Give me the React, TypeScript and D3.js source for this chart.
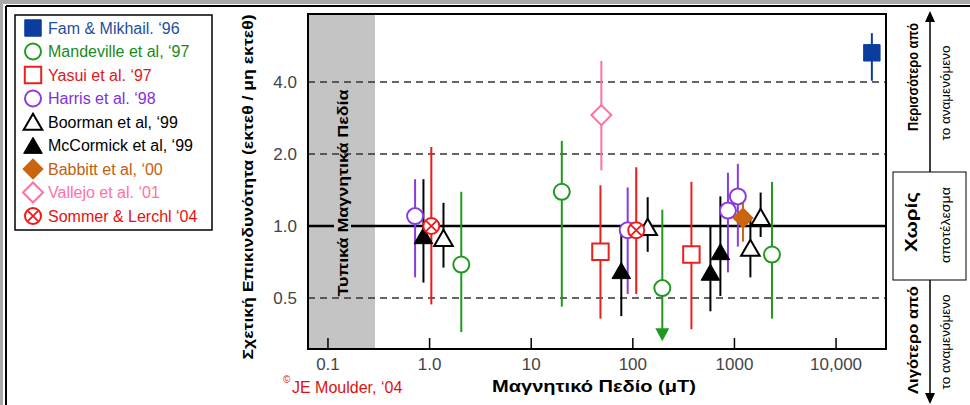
import React, { useEffect, useRef } from "react";
import * as d3 from "d3";

type Estimate = { field: number; rr: number; lo: number; hi: number; open?: boolean };

// relative risk estimates (field in µT)
const famMikhail: Estimate[] = [{ field: 22500, rr: 5.3, lo: 4.05, hi: 6.4 }];
const mandeville: Estimate[] = [
  { field: 2.05, rr: 0.69, lo: 0.36, hi: 1.39 },
  { field: 20, rr: 1.39, lo: 0.46, hi: 2.27 },
  { field: 195, rr: 0.55, lo: 0.33, hi: 1.17, open: true },
  { field: 2340, rr: 0.76, lo: 0.41, hi: 1.53 },
];
const yasui: Estimate[] = [
  { field: 48, rr: 0.78, lo: 0.41, hi: 1.48 },
  { field: 377, rr: 0.76, lo: 0.37, hi: 1.53 },
];
const harris: Estimate[] = [
  { field: 0.72, rr: 1.1, lo: 0.61, hi: 1.57 },
  { field: 89, rr: 0.96, lo: 0.52, hi: 1.45 },
  { field: 863, rr: 1.16, lo: 0.64, hi: 1.67 },
  { field: 1080, rr: 1.33, lo: 0.82, hi: 1.82 },
];
const boorman: Estimate[] = [
  { field: 1.37, rr: 0.89, lo: 0.67, hi: 1.25 },
  { field: 140, rr: 0.99, lo: 0.78, hi: 1.32 },
  { field: 1435, rr: 0.81, lo: 0.61, hi: 1.08 },
  { field: 1810, rr: 1.09, lo: 0.9, hi: 1.38 },
];
const mcCormick: Estimate[] = [
  { field: 0.87, rr: 0.91, lo: 0.58, hi: 1.57 },
  { field: 77, rr: 0.65, lo: 0.42, hi: 1.0 },
  { field: 580, rr: 0.64, lo: 0.44, hi: 1.0 },
  { field: 727, rr: 0.78, lo: 0.51, hi: 1.33 },
];
const babbitt: Estimate[] = [{ field: 1213, rr: 1.08, lo: 0.86, hi: 1.26 }];
const vallejo: Estimate[] = [{ field: 49, rr: 2.91, lo: 1.71, hi: 4.9 }];
const sommer: Estimate[] = [
  { field: 1.04, rr: 1.0, lo: 0.47, hi: 2.14 },
  { field: 108, rr: 0.96, lo: 0.52, hi: 1.76 },
];

const legendLabels = [
  "Fam & Mikhail. ‘96",
  "Mandeville et al, ‘97",
  "Yasui et al. ‘97",
  "Harris et al. ‘98",
  "Boorman et al, ‘99",
  "McCormick et al, ‘99",
  "Babbitt et al, ‘00",
  "Vallejo et al. ‘01",
  "Sommer & Lerchl ‘04",
];

const xTicks = [0.1, 1, 10, 100, 1000, 10000];
const xTickLabels = ["0.1", "1.0", "10", "100", "1000", "10,000"];
const yTicks = [0.5, 1, 2, 4];
const yTickLabels = ["0.5", "1.0", "2.0", "4.0"];

const series = [
  { data: famMikhail, shape: "square", color: "#0b3d9e", text: "#1f4fa0", filled: true },
  { data: mandeville, shape: "circle", color: "#1f9a1f", text: "#1a8a1a", filled: false },
  { data: yasui, shape: "square", color: "#e8201e", text: "#e0161b", filled: false },
  { data: harris, shape: "circle", color: "#8a3be0", text: "#8030e0", filled: false },
  { data: boorman, shape: "triangle", color: "#000000", text: "#000000", filled: false },
  { data: mcCormick, shape: "triangle", color: "#000000", text: "#000000", filled: true },
  { data: babbitt, shape: "diamond", color: "#c8650e", text: "#c06010", filled: true },
  { data: vallejo, shape: "diamond", color: "#ff6fa3", text: "#ff6fa8", filled: false },
  { data: sommer, shape: "crossCircle", color: "#f01818", text: "#e81010", filled: false },
];

const FONT = "'Liberation Sans', Arial, sans-serif";

const drawMarker = (g: any, shape: string, color: string, filled: boolean, x: number, y: number) => {
  const fill = filled ? color : "#fff";
  if (shape === "circle" || shape === "crossCircle") {
    g.append("circle").attr("cx", x).attr("cy", y).attr("r", 8)
      .attr("fill", fill).attr("stroke", color).attr("stroke-width", 2);
    if (shape === "crossCircle") {
      const d = 5.2;
      g.append("path")
        .attr("d", `M${x - d},${y - d}L${x + d},${y + d}M${x - d},${y + d}L${x + d},${y - d}`)
        .attr("stroke", color).attr("stroke-width", 1.8);
    }
    return;
  }
  let sym: any = d3.symbolSquare;
  let size = 270;
  let rot = 0;
  let dy = 0;
  if (shape === "triangle") { sym = d3.symbolTriangle; size = 150; dy = 2.5; }
  if (shape === "diamond") { sym = d3.symbolSquare; size = 200; rot = 45; }
  g.append("path")
    .attr("d", d3.symbol().type(sym).size(size)())
    .attr("transform", `translate(${x},${y + dy}) rotate(${rot})`)
    .attr("fill", fill)
    .attr("stroke", color)
    .attr("stroke-width", filled ? 1 : 2);
};

const App = () => {
  const svgRef = useRef<SVGSVGElement>(null);

  useEffect(() => {
    document.body.style.margin = "0";
    const svg = d3.select(svgRef.current);
    svg.selectAll("*").remove();

    const left = 308, right = 886, top = 14, bottom = 349;
    const x = d3.scaleLog().domain([0.0636, 31000]).range([left, right]);
    const y = d3.scaleLog().base(2).domain([0.306, 7.7]).range([bottom, top]);

    svg.append("rect").attr("width", 970).attr("height", 405).attr("fill", "#fff");

    // outer frame
    svg.append("rect").attr("x", 0).attr("y", 0).attr("width", 970).attr("height", 4).attr("fill", "#a8a8a8");
    svg.append("rect").attr("x", 0).attr("y", 0).attr("width", 3).attr("height", 405).attr("fill", "#a8a8a8");
    svg.append("line").attr("x1", 6).attr("x2", 970).attr("y1", 6).attr("y2", 6).attr("stroke", "#000").attr("stroke-width", 2);
    svg.append("line").attr("x1", 6).attr("x2", 6).attr("y1", 6).attr("y2", 405).attr("stroke", "#000").attr("stroke-width", 2);

    // typical field band
    svg.append("rect").attr("x", left).attr("y", top).attr("width", x(0.29) - left)
      .attr("height", bottom - top).attr("fill", "#c4c4c4");

    // reference lines
    yTicks.forEach((t) => {
      svg.append("line")
        .attr("x1", left).attr("x2", right).attr("y1", y(t)).attr("y2", y(t))
        .attr("stroke", t === 1 ? "#000" : "#333")
        .attr("stroke-width", t === 1 ? 2.5 : 1.5)
        .attr("stroke-dasharray", t === 1 ? null : "7,5");
    });
    // gap in the 1.0 line behind the band label
    svg.append("rect").attr("x", 334).attr("y", y(1) - 3).attr("width", 17).attr("height", 6).attr("fill", "#c4c4c4");

    const vText = (tx: number, ty: number, txt: string, size: number, bold: boolean, len: number) => {
      svg.append("text")
        .attr("transform", `translate(${tx},${ty}) rotate(-90)`)
        .attr("text-anchor", "middle")
        .attr("dominant-baseline", "central")
        .attr("textLength", len)
        .attr("lengthAdjust", "spacingAndGlyphs")
        .style("font-family", FONT).style("font-size", `${size}px`).style("font-weight", bold ? "bold" : "normal")
        .text(txt);
    };

    vText(342, 193, "Τυπικά Μαγνητικά Πεδία", 15, true, 207);

    // x ticks
    xTicks.forEach((t, i) => {
      svg.append("line").attr("x1", x(t)).attr("x2", x(t)).attr("y1", bottom).attr("y2", bottom - 11)
        .attr("stroke", "#000").attr("stroke-width", 1.5);
      svg.append("text").attr("x", x(t)).attr("y", 370).attr("text-anchor", "middle")
        .style("font-family", FONT).style("font-size", "17px").style("fill", "#444")
        .text(xTickLabels[i]);
    });
    yTicks.forEach((t, i) => {
      svg.append("text").attr("x", 297).attr("y", y(t) + 6).attr("text-anchor", "end")
        .style("font-family", FONT).style("font-size", "17px").style("fill", "#444")
        .text(yTickLabels[i]);
    });

    // plot frame
    svg.append("rect").attr("x", left).attr("y", top).attr("width", right - left).attr("height", bottom - top)
      .attr("fill", "none").attr("stroke", "#000").attr("stroke-width", 2);

    // error bars
    series.forEach((s) => {
      s.data.forEach((d) => {
        svg.append("line").attr("x1", x(d.field)).attr("x2", x(d.field))
          .attr("y1", y(d.hi)).attr("y2", y(d.lo) - (d.open ? 8 : 0))
          .attr("stroke", s.color).attr("stroke-width", 2);
        if (d.open) {
          const px = x(d.field), py = y(d.lo);
          svg.append("path").attr("d", `M${px - 7},${py - 13}L${px + 7},${py - 13}L${px},${py}Z`)
            .attr("fill", s.color);
        }
      });
    });
    // markers
    series.forEach((s) => {
      s.data.forEach((d) => drawMarker(svg, s.shape, s.color, s.filled, x(d.field), y(d.rr)));
    });

    // legend
    svg.append("rect").attr("x", 15).attr("y", 15).attr("width", 197).attr("height", 215)
      .attr("fill", "#fff").attr("stroke", "#000").attr("stroke-width", 1.5);
    series.forEach((s, i) => {
      const ly = 28 + i * 23.5;
      drawMarker(svg, s.shape, s.color, s.filled, 33, ly);
      svg.append("text").attr("x", 48).attr("y", ly + 5.5)
        .style("font-family", FONT).style("font-size", "16px").style("fill", s.text)
        .text(legendLabels[i]);
    });

    // axis titles
    vText(248, 187, "Σχετική Επικινδυνότητα (εκτεθ / μη εκτεθ)", 14, true, 345);
    svg.append("text").attr("x", 594).attr("y", 392).attr("text-anchor", "middle")
      .attr("textLength", 204).attr("lengthAdjust", "spacingAndGlyphs")
      .style("font-family", FONT).style("font-weight", "bold").style("font-size", "16px")
      .text("Μαγνητικό Πεδίο (μT)");
    svg.append("text").attr("x", 283).attr("y", 383)
      .style("font-family", FONT).style("font-size", "10px").style("fill", "#e01010").text("©");
    svg.append("text").attr("x", 292).attr("y", 393)
      .style("font-family", FONT).style("font-size", "16px").style("fill", "#e01010")
      .text("JE Moulder, ‘04");

    // right-hand annotation
    const ax = 930;
    svg.append("line").attr("x1", ax).attr("x2", ax).attr("y1", 20).attr("y2", 172).attr("stroke", "#000").attr("stroke-width", 1.5);
    svg.append("path").attr("d", `M${ax},11L${ax + 5},22L${ax - 5},22Z`).attr("fill", "#000");
    svg.append("line").attr("x1", ax).attr("x2", ax).attr("y1", 280).attr("y2", 394).attr("stroke", "#000").attr("stroke-width", 1.5);
    svg.append("path").attr("d", `M${ax},404L${ax + 5},393L${ax - 5},393Z`).attr("fill", "#000");
    svg.append("rect").attr("x", 893).attr("y", 172).attr("width", 73).attr("height", 108)
      .attr("fill", "#fff").attr("stroke", "#000").attr("stroke-width", 1);

    vText(913, 77, "Περισσότερο από", 14, true, 108);
    vText(946, 93, "το αναμενόμενο", 12, false, 95);
    vText(911, 222, "Χωρίς", 16, true, 60);
    vText(946, 225, "αποτέλεσμα", 12, false, 76);
    vText(913, 340, "Λιγότερο από", 14, true, 108);
    vText(946, 342, "το αναμενόμενο", 12, false, 95);
  }, []);

  return <svg ref={svgRef} width={970} height={405} style={{ display: "block" }}></svg>;
};

export default App;
